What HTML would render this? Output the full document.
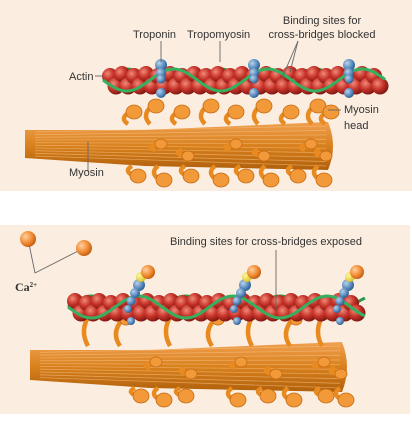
<!DOCTYPE html>
<html><head><meta charset="utf-8"><style>
html,body{margin:0;padding:0;background:#fff;width:412px;height:421px;overflow:hidden}
svg{display:block}
text{font-family:"Liberation Sans",sans-serif;font-size:11px;fill:#333}
</style></head><body>
<svg id="fig" width="412" height="421" viewBox="0 0 412 421">
<defs>
<radialGradient id="red" cx="35%" cy="35%" r="70%"><stop offset="0" stop-color="#f08a7a"/><stop offset="0.5" stop-color="#c8342a"/><stop offset="1" stop-color="#7a1410"/></radialGradient>
<radialGradient id="blue" cx="35%" cy="35%" r="70%"><stop offset="0" stop-color="#b9d2ea"/><stop offset="0.6" stop-color="#5a8cc0"/><stop offset="1" stop-color="#2a5a8c"/></radialGradient>
<radialGradient id="orb" cx="35%" cy="35%" r="70%"><stop offset="0" stop-color="#ffd0a0"/><stop offset="0.6" stop-color="#f08a30"/><stop offset="1" stop-color="#c05a10"/></radialGradient>
<radialGradient id="yel" cx="35%" cy="35%" r="70%"><stop offset="0" stop-color="#fff7a0"/><stop offset="1" stop-color="#d8c020"/></radialGradient>
<linearGradient id="thick" x1="0" y1="0" x2="0" y2="1"><stop offset="0" stop-color="#f0a050"/><stop offset="0.5" stop-color="#d8801c"/><stop offset="1" stop-color="#b0600c"/></linearGradient>
</defs>
<rect x="0" y="0" width="412" height="191" fill="#fbeee0"/>
<rect x="0" y="225" width="410" height="189" fill="#fbeee0"/>
<g id="gtop"></g><g id="gbot"></g><g id="gover"></g>
<text x="133" y="38">Troponin</text>
<text x="187" y="38">Tropomyosin</text>
<text x="322" y="24" text-anchor="middle">Binding sites for</text>
<text x="322" y="38" text-anchor="middle">cross-bridges blocked</text>
<text x="69" y="80">Actin</text>
<text x="344" y="113">Myosin</text>
<text x="344" y="129">head</text>
<text x="69" y="176">Myosin</text>
<text x="170" y="245">Binding sites for cross-bridges exposed</text>
<text x="15" y="291" style="font-family:'Liberation Serif',serif;font-weight:bold;font-size:12px">Ca<tspan font-size="7" dy="-4">2+</tspan></text>
</svg>
<script>
(function(){
const NS="http://www.w3.org/2000/svg";
function el(p,t,a){const e=document.createElementNS(NS,t);for(const k in a)e.setAttribute(k,a[k]);p.appendChild(e);return e;}
function filament(g,x0,x1,cy,tropX,bound){
  let d1="",d2="";
  for(let x=x0;x<=x1;x+=3){d1+=(x==x0?"M":"L")+x+","+(cy+11*Math.sin((x-x0)/15));d2+=(x==x0?"M":"L")+x+","+(cy+11*Math.sin((x-x0)/15+Math.PI));}
  const s=el(g,"path",{d:d2,stroke:"#2a9a4a","stroke-width":3,fill:"none"});
  
  
  for(let x=x0+7;x<=x1-4;x+=12){
    const r1=el(g,"circle",{cx:x,cy:cy-6+((x/12|0)%2)*2,r:8,fill:"url(#red)"});
    
    
    const r2=el(g,"circle",{cx:x+6,cy:cy+6,r:8.5,fill:"url(#red)"});
    
    
  }
  const f=el(g,"path",{d:d1,stroke:"#36b060","stroke-width":3,fill:"none"});
  
  
  tropX.forEach(tx=>{
    const pts=bound?[[tx+8,cy-22,6],[tx+4,cy-14,5],[tx,cy-6,4.5],[tx-3,cy+2,4],[tx,cy+14,4]]:[[tx,cy-15,6],[tx,cy-7,5],[tx,cy-1,4.5],[tx,cy+13,5]];
    pts.forEach(p=>{const c=el(g,"circle",{cx:p[0],cy:p[1],r:p[2],fill:"url(#blue)"});
      
      });
    if(bound){
      const y=el(g,"circle",{cx:tx+10,cy:cy-30,r:5,fill:"url(#yel)"});
      
      
      const o=el(g,"circle",{cx:tx+17,cy:cy-35,r:7,fill:"url(#orb)"});
      
      
    }
  });
}
function thick(g,x0,x1,t,b,tipTop,tipBot){
  const p=el(g,"path",{d:`M${x0},${tipTop} L${x0+120},${t+8} L${x1-10},${t} Q${x1},${(t+b)/2} ${x1-10},${b} L${x0+120},${b-4} L${x0},${tipBot} Z`,fill:"url(#thick)"});
  
  
  for(let i=0;i<10;i++){const y=t+4+i*(b-t-8)/9;
    const l=el(g,"line",{x1:x0+10,y1:(tipTop+tipBot)/2+(y-(t+b)/2)*0.6,x2:x1-12,y2:y,stroke:"#f7c080","stroke-width":0.8,opacity:0.6});
    
    }
}
function head(g,x,y,up,arm,big){
  const hy=up?y-arm:y+arm;
  const a=el(g,"path",{d:`M${x},${y} Q${x-9},${(y+hy)/2} ${x+2},${hy}`,stroke:"#e88a20","stroke-width":4.5,fill:"none"});
  
  
  const h=el(g,"ellipse",{cx:x+6,cy:hy,rx:big?8:6,ry:big?7:5,fill:"#f29a3a",stroke:"#c86a10","stroke-width":0.8});
  
  
}
const gTop=document.getElementById('gtop'),gBot=document.getElementById('gbot'),gOver=document.getElementById('gover');
// top
thick(gTop,25,338,122,170,130,158);
[128,150,176,205,230,258,285,312,325].forEach((x,i)=>head(gTop,x,124,true,i%2?18:12,true));
[132,158,185,215,240,265,292,318].forEach((x,i)=>head(gTop,x,166,false,i%2?14:10,true));
[155,182,230,258,305,320].forEach((x,i)=>head(gTop,x,150,i%2==0,6,false));
filament(gTop,103,385,80,[161,254,349],false);
// bottom
thick(gBot,30,352,342,392,350,380);
[88,120,170,212,252,290,322].forEach((x,i)=>head(gBot,x,346,true,i%2?26:32,false));
[135,158,180,232,262,288,320,340].forEach((x,i)=>head(gBot,x,388,false,i%2?12:8,true));
[150,185,235,270,318,335].forEach((x,i)=>head(gBot,x,368,i%2==0,6,false));
filament(gBot,68,365,307,[131,237,340],true);
const L=[[95,76,103,76],[161,41,161,62],[220,41,220,62],[298,41,290,72],[298,41,282,78],[341,110,328,110],[88,172,88,142],[276,250,276,310],[28,239,35,273],[84,248,35,273]];
L.forEach(l=>{const e=el(gOver,"line",{x1:l[0],y1:l[1],x2:l[2],y2:l[3],stroke:"#666","stroke-width":0.9});
  
  });
[[28,239],[84,248]].forEach(c=>{const e=el(gOver,"circle",{cx:c[0],cy:c[1],r:8,fill:"url(#orb)"});
  
  });
})();
</script>
</body></html>
